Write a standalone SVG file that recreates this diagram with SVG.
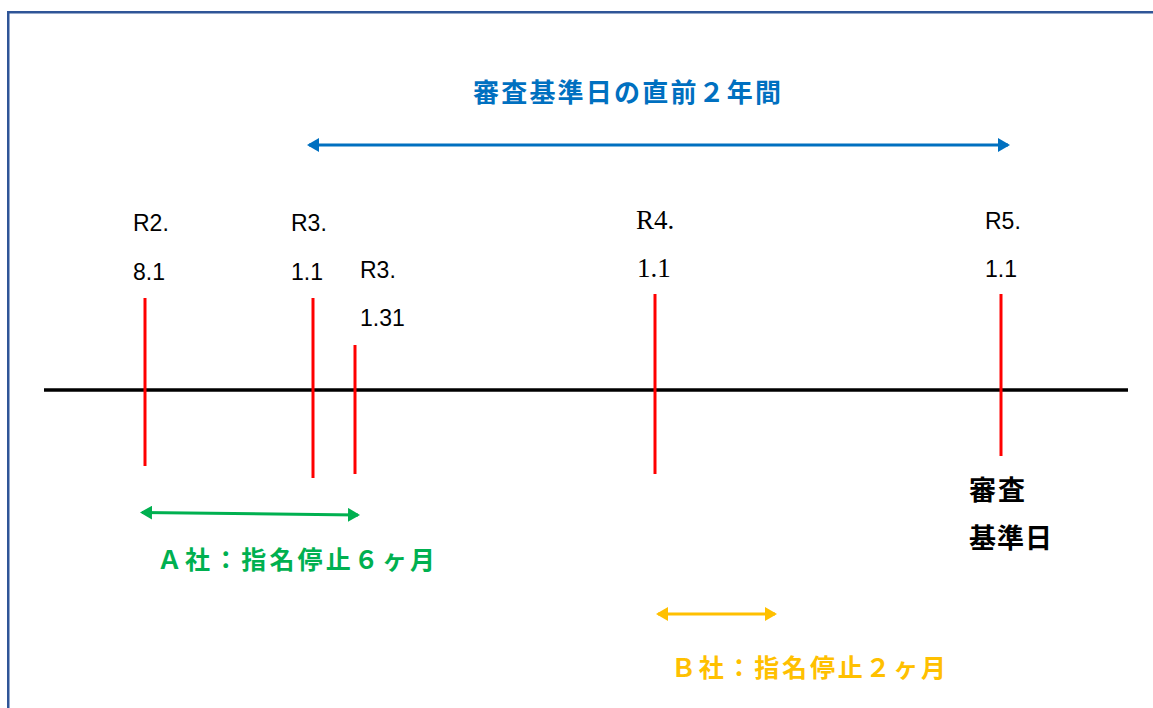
<svg xmlns="http://www.w3.org/2000/svg" width="1153" height="708" viewBox="0 0 1153 708">
  <style>
    .frame { fill: none; stroke: #2F5597; stroke-width: 2.5; }
    .axis { stroke: #000; stroke-width: 3.5; }
    .tick { stroke: #FF0000; stroke-width: 3; }
    .sans { font-family: "Liberation Sans", Arial, sans-serif; font-size: 23px; fill: #000; }
    .serif { font-family: "Liberation Serif", "Times New Roman", serif; font-size: 27px; fill: #000; }
    .jp { font-family: "Noto Sans CJK JP", "Noto Sans CJK SC", sans-serif; font-weight: 700; }
  </style>
  <defs>
    <marker id="ab" viewBox="0 0 12 14" refX="10" refY="7" markerWidth="12" markerHeight="14" markerUnits="userSpaceOnUse" orient="auto-start-reverse">
      <path d="M0,0 L12,7 L0,14 z" fill="#0070C0"/>
    </marker>
    <marker id="ag" viewBox="0 0 12 14" refX="10" refY="7" markerWidth="12" markerHeight="14" markerUnits="userSpaceOnUse" orient="auto-start-reverse">
      <path d="M0,0 L12,7 L0,14 z" fill="#00B050"/>
    </marker>
    <marker id="ay" viewBox="0 0 12 14" refX="10" refY="7" markerWidth="12" markerHeight="14" markerUnits="userSpaceOnUse" orient="auto-start-reverse">
      <path d="M0,0 L12,7 L0,14 z" fill="#FFC000"/>
    </marker>
  </defs>

  <rect class="frame" x="8.25" y="12.25" width="1200" height="800"/>

  <g id="timeline">
    <line class="axis" x1="44" y1="390" x2="1128" y2="390"/>
  </g>

  <g id="connectors">
    <line x1="309" y1="145" x2="1008" y2="145" stroke="#0070C0" stroke-width="3" marker-start="url(#ab)" marker-end="url(#ab)"/>
    <line x1="142" y1="512.5" x2="358" y2="515" stroke="#00B050" stroke-width="3" marker-start="url(#ag)" marker-end="url(#ag)"/>
    <line x1="658" y1="614" x2="775" y2="614" stroke="#FFC000" stroke-width="3" marker-start="url(#ay)" marker-end="url(#ay)"/>
  </g>

  <g id="title">
    <text class="jp" x="473" y="102" font-size="26" fill="#0070C0" textLength="308">審査基準日の直前２年間</text>
  </g>

  <g id="r2-8-1">
    <line class="tick" x1="145" y1="298" x2="145" y2="466"/>
    <text class="sans" x="133" y="231">R2.</text>
    <text class="sans" x="133" y="280">8.1</text>
  </g>

  <g id="r3-1-1">
    <line class="tick" x1="313" y1="298" x2="313" y2="478"/>
    <text class="sans" x="291" y="231">R3.</text>
    <text class="sans" x="291" y="280">1.1</text>
  </g>

  <g id="r3-1-31">
    <line class="tick" x1="355" y1="345" x2="355" y2="474"/>
    <text class="sans" x="360" y="278">R3.</text>
    <text class="sans" x="360" y="326">1.31</text>
  </g>

  <g id="r4-1-1">
    <line class="tick" x1="655" y1="294" x2="655" y2="474"/>
    <text class="serif" x="636" y="229">R4.</text>
    <text class="serif" x="637" y="277">1.1</text>
  </g>

  <g id="r5-1-1">
    <line class="tick" x1="1001" y1="294" x2="1001" y2="456"/>
    <text class="sans" x="985" y="229">R5.</text>
    <text class="sans" x="985" y="277">1.1</text>
    <text class="jp" x="969" y="500" font-size="27" fill="#000" textLength="56">審査</text>
    <text class="jp" x="969" y="548" font-size="27" fill="#000" textLength="83">基準日</text>
  </g>

  <g id="company-a">
    <text class="jp" x="157" y="569" font-size="25" fill="#00B050" textLength="278">Ａ社：指名停止６ヶ月</text>
  </g>

  <g id="company-b">
    <text class="jp" x="671" y="677" font-size="25" fill="#FFC000" textLength="275">Ｂ社：指名停止２ヶ月</text>
  </g>
</svg>
